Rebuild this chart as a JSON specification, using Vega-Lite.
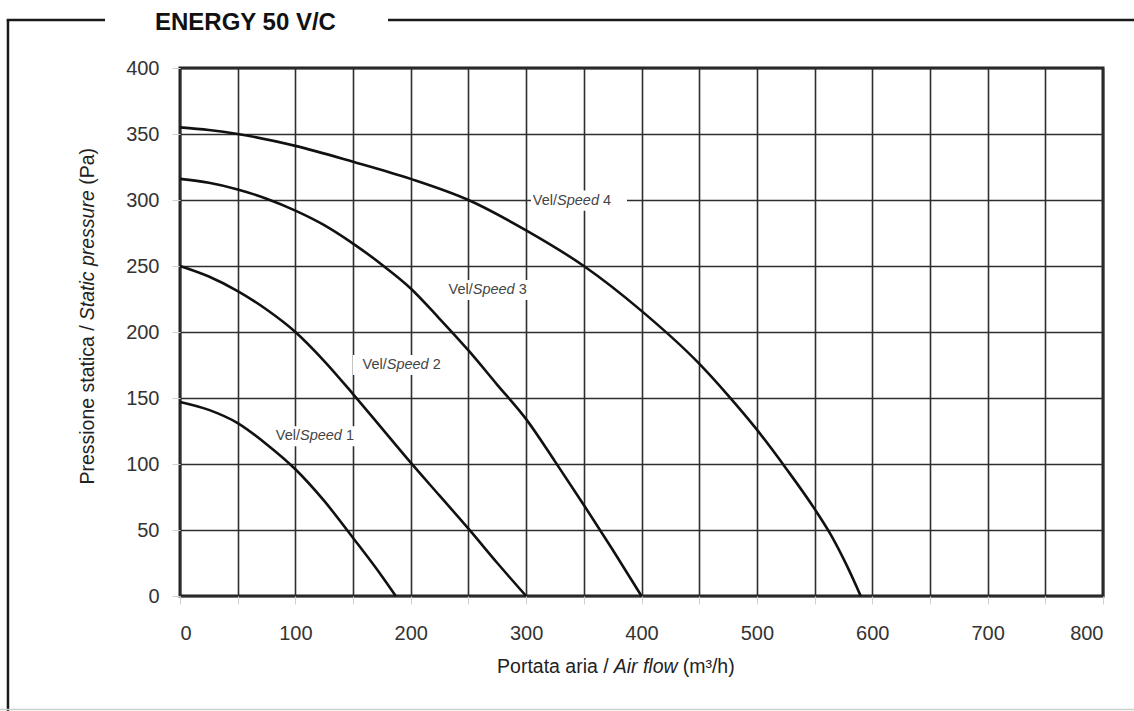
{
  "$schema": "https://vega.github.io/schema/vega-lite/v6.json",
  "autosize": "none",
  "width": 923,
  "height": 528,
  "padding": {"left": 180, "top": 68, "right": 31, "bottom": 115},
  "background": "white",
  "config": {
    "view": {"stroke": "#222", "strokeWidth": 3},
    "axis": {
      "domain": false,
      "grid": true,
      "gridColor": "#2e2e2e",
      "gridWidth": 1.6,
      "gridOpacity": 1,
      "tickColor": "#d0d0d0",
      "tickSize": 8,
      "labelFont": "Liberation Sans",
      "labelFontSize": 20,
      "labelColor": "#333"
    }
  },
  "datasets": {
    "curves": [
      {"speed": "1", "flow": 0, "pressure": 147},
      {"speed": "1", "flow": 25, "pressure": 141},
      {"speed": "1", "flow": 50, "pressure": 131},
      {"speed": "1", "flow": 75, "pressure": 115},
      {"speed": "1", "flow": 100, "pressure": 96},
      {"speed": "1", "flow": 125, "pressure": 72},
      {"speed": "1", "flow": 150, "pressure": 44},
      {"speed": "1", "flow": 175, "pressure": 15},
      {"speed": "1", "flow": 187, "pressure": 0},
      {"speed": "2", "flow": 0, "pressure": 250},
      {"speed": "2", "flow": 25, "pressure": 242},
      {"speed": "2", "flow": 50, "pressure": 231},
      {"speed": "2", "flow": 75, "pressure": 217},
      {"speed": "2", "flow": 100, "pressure": 200},
      {"speed": "2", "flow": 125, "pressure": 178},
      {"speed": "2", "flow": 150, "pressure": 153},
      {"speed": "2", "flow": 175, "pressure": 127},
      {"speed": "2", "flow": 200, "pressure": 101},
      {"speed": "2", "flow": 225, "pressure": 76},
      {"speed": "2", "flow": 250, "pressure": 51},
      {"speed": "2", "flow": 275, "pressure": 25},
      {"speed": "2", "flow": 300, "pressure": 0},
      {"speed": "3", "flow": 0, "pressure": 316},
      {"speed": "3", "flow": 25, "pressure": 313},
      {"speed": "3", "flow": 50, "pressure": 308},
      {"speed": "3", "flow": 75, "pressure": 301},
      {"speed": "3", "flow": 100, "pressure": 292},
      {"speed": "3", "flow": 125, "pressure": 281},
      {"speed": "3", "flow": 150, "pressure": 267},
      {"speed": "3", "flow": 175, "pressure": 251},
      {"speed": "3", "flow": 200, "pressure": 233},
      {"speed": "3", "flow": 225, "pressure": 210},
      {"speed": "3", "flow": 250, "pressure": 186},
      {"speed": "3", "flow": 275, "pressure": 160},
      {"speed": "3", "flow": 300, "pressure": 134},
      {"speed": "3", "flow": 325, "pressure": 102},
      {"speed": "3", "flow": 350, "pressure": 69},
      {"speed": "3", "flow": 375, "pressure": 35},
      {"speed": "3", "flow": 400, "pressure": 0},
      {"speed": "4", "flow": 0, "pressure": 355},
      {"speed": "4", "flow": 25, "pressure": 353},
      {"speed": "4", "flow": 50, "pressure": 350},
      {"speed": "4", "flow": 100, "pressure": 341},
      {"speed": "4", "flow": 150, "pressure": 329},
      {"speed": "4", "flow": 200, "pressure": 316},
      {"speed": "4", "flow": 250, "pressure": 300},
      {"speed": "4", "flow": 300, "pressure": 277},
      {"speed": "4", "flow": 350, "pressure": 250},
      {"speed": "4", "flow": 400, "pressure": 216},
      {"speed": "4", "flow": 450, "pressure": 176},
      {"speed": "4", "flow": 475, "pressure": 152},
      {"speed": "4", "flow": 500, "pressure": 126},
      {"speed": "4", "flow": 525, "pressure": 97},
      {"speed": "4", "flow": 550, "pressure": 66},
      {"speed": "4", "flow": 565, "pressure": 45},
      {"speed": "4", "flow": 578, "pressure": 23},
      {"speed": "4", "flow": 590, "pressure": 0}
    ],
    "labels": [
      {"speed": "1", "lx": 104, "ly": 121, "bx": 115.3},
      {"speed": "2", "lx": 179.2, "ly": 175, "bx": 191.5},
      {"speed": "3", "lx": 253.7, "ly": 231.8, "bx": 266.1},
      {"speed": "4", "lx": 326.8, "ly": 299.5, "bx": 345.8}
    ],
    "texts": [
      {"title": "ENERGY 50 V/C", "xa": "Portata aria /", "xb": "Air flow", "xc": "(m³/h)", "ya": "Pressione statica /", "yb": "Static pressure", "yc": "(Pa)"}
    ]
  },
  "layer": [
    {
      "data": {"values": [{}]},
      "mark": {"type": "rule", "color": "#1a1a1a", "strokeWidth": 2.5},
      "encoding": {
        "x": {"datum": -149.1, "type": "quantitative", "scale": {"domain": [0, 800], "nice": false}},
        "y": {"datum": 436.4, "type": "quantitative", "scale": {"domain": [0, 400], "nice": false}},
        "y2": {"datum": -88}
      }
    },
    {
      "data": {"values": [{}]},
      "mark": {"type": "rule", "color": "#1a1a1a", "strokeWidth": 2.5},
      "encoding": {
        "x": {"datum": -150.2, "type": "quantitative"},
        "x2": {"datum": -65},
        "y": {"datum": 436.4, "type": "quantitative"}
      }
    },
    {
      "data": {"values": [{}]},
      "mark": {"type": "rule", "color": "#1a1a1a", "strokeWidth": 2.5},
      "encoding": {
        "x": {"datum": 180.3, "type": "quantitative"},
        "x2": {"datum": 830},
        "y": {"datum": 436.4, "type": "quantitative"}
      }
    },
    {
      "data": {"values": [{}]},
      "mark": {"type": "rule", "color": "#cfcfcf", "strokeWidth": 1.5},
      "encoding": {
        "x": {"datum": -160, "type": "quantitative"},
        "x2": {"datum": 830},
        "y": {"datum": -86, "type": "quantitative"}
      }
    },
    {
      "data": {"name": "texts"},
      "mark": {"type": "text", "align": "left", "baseline": "alphabetic", "font": "Liberation Sans", "fontSize": 24, "fontWeight": "bold", "color": "#111"},
      "encoding": {
        "x": {"datum": -21.7, "type": "quantitative"},
        "y": {"datum": 428.8, "type": "quantitative"},
        "text": {"field": "title"}
      }
    },
    {
      "data": {"name": "texts"},
      "mark": {"type": "text", "align": "right", "baseline": "middle", "dx": -5, "font": "Liberation Sans", "fontSize": 19.5, "color": "#222"},
      "encoding": {
        "x": {"datum": 375.9, "type": "quantitative"},
        "y": {"datum": -53.8, "type": "quantitative"},
        "text": {"field": "xa"}
      }
    },
    {
      "data": {"name": "texts"},
      "mark": {"type": "text", "align": "left", "baseline": "middle", "font": "Liberation Sans", "fontStyle": "italic", "fontSize": 19.5, "color": "#222"},
      "encoding": {
        "x": {"datum": 375.9, "type": "quantitative"},
        "y": {"datum": -53.8, "type": "quantitative"},
        "text": {"field": "xb"}
      }
    },
    {
      "data": {"name": "texts"},
      "mark": {"type": "text", "align": "left", "baseline": "middle", "dx": 69, "font": "Liberation Sans", "fontSize": 19.5, "color": "#222"},
      "encoding": {
        "x": {"datum": 375.9, "type": "quantitative"},
        "y": {"datum": -53.8, "type": "quantitative"},
        "text": {"field": "xc"}
      }
    },
    {
      "data": {"name": "texts"},
      "mark": {"type": "text", "angle": 270, "align": "right", "baseline": "middle", "dx": -5, "font": "Liberation Sans", "fontSize": 19.5, "color": "#222"},
      "encoding": {
        "x": {"datum": -79.7, "type": "quantitative"},
        "y": {"datum": 208.9, "type": "quantitative"},
        "text": {"field": "ya"}
      }
    },
    {
      "data": {"name": "texts"},
      "mark": {"type": "text", "angle": 270, "align": "left", "baseline": "middle", "font": "Liberation Sans", "fontStyle": "italic", "fontSize": 19.5, "color": "#222"},
      "encoding": {
        "x": {"datum": -79.7, "type": "quantitative"},
        "y": {"datum": 208.9, "type": "quantitative"},
        "text": {"field": "yb"}
      }
    },
    {
      "data": {"name": "texts"},
      "mark": {"type": "text", "angle": 270, "align": "left", "baseline": "middle", "dx": 135.5, "font": "Liberation Sans", "fontSize": 19.5, "color": "#222"},
      "encoding": {
        "x": {"datum": -79.7, "type": "quantitative"},
        "y": {"datum": 208.9, "type": "quantitative"},
        "text": {"field": "yc"}
      }
    },
    {
      "data": {"name": "labels"},
      "mark": {"type": "point", "shape": "M-1,-0.21L1,-0.21L1,0.21L-1,0.21Z", "filled": true, "color": "white", "opacity": 1, "size": 9216, "strokeWidth": 0},
      "encoding": {
        "x": {"field": "bx", "type": "quantitative"},
        "y": {"field": "ly", "type": "quantitative"}
      }
    },
    {
      "data": {"name": "curves"},
      "mark": {"type": "line", "interpolate": "monotone", "color": "#111", "strokeWidth": 2.6},
      "encoding": {
        "x": {
          "field": "flow",
          "type": "quantitative",
          "axis": {
            "values": [0, 50, 100, 150, 200, 250, 300, 350, 400, 450, 500, 550, 600, 650, 700, 750, 800],
            "labelExpr": "datum.value % 100 == 0 ? datum.label : ''",
            "labelPadding": 19,
            "title": null
          }
        },
        "y": {
          "field": "pressure",
          "type": "quantitative",
          "axis": {
            "values": [0, 50, 100, 150, 200, 250, 300, 350, 400],
            "labelPadding": 13,
            "title": null
          }
        },
        "detail": {"field": "speed"}
      }
    },
    {
      "data": {"name": "labels"},
      "mark": {"type": "text", "text": "Vel/", "align": "right", "baseline": "middle", "font": "Liberation Sans", "fontSize": 14.5, "color": "#444"},
      "encoding": {
        "x": {"field": "lx", "type": "quantitative"},
        "y": {"field": "ly", "type": "quantitative"}
      }
    },
    {
      "data": {"name": "labels"},
      "mark": {"type": "text", "text": "Speed", "align": "left", "baseline": "middle", "font": "Liberation Sans", "fontStyle": "italic", "fontSize": 14.5, "color": "#444"},
      "encoding": {
        "x": {"field": "lx", "type": "quantitative"},
        "y": {"field": "ly", "type": "quantitative"}
      }
    },
    {
      "data": {"name": "labels"},
      "mark": {"type": "text", "align": "left", "baseline": "middle", "dx": 46, "font": "Liberation Sans", "fontSize": 14.5, "color": "#444"},
      "encoding": {
        "x": {"field": "lx", "type": "quantitative"},
        "y": {"field": "ly", "type": "quantitative"},
        "text": {"field": "speed"}
      }
    }
  ]
}
